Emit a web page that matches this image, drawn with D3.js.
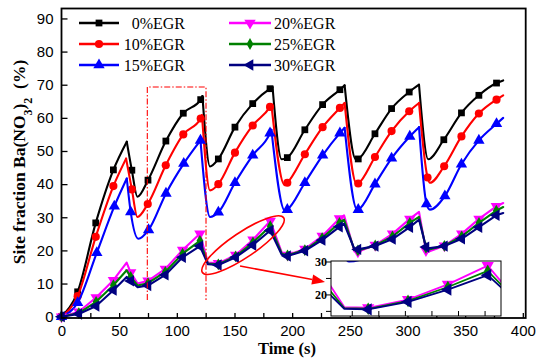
<!DOCTYPE html>
<html><head><meta charset="utf-8">
<script src="https://cdn.jsdelivr.net/npm/d3@7"></script>
<style>body{margin:0;background:#fff}svg{display:block}</style>
</head><body>
<svg id="c" width="539" height="359"></svg>
<script>
// ---------- data ----------
const xTicks = [0, 50, 100, 150, 200, 250, 300, 350, 400];
const yTicks = [0, 10, 20, 30, 40, 50, 60, 70, 80, 90];
const seriesNames = ["0%EGR", "10%EGR", "15%EGR", "20%EGR", "25%EGR", "30%EGR"];
// [time (s), site fraction (%), marker?]
const egr0 = [[0,0,1],[14,7.5,1],[29.7,28.3,1],[45,44.3,1],[56.6,52.8,0],[61,44.2,1],[65.8,36.2,0],[75,41.2,1],[90.5,53,1],[105.6,61.4,1],[120.7,65.5,1],[122.2,66.6,0],[128.8,45.3,0],[136,47.6,1],[150.4,57.2,1],[165.8,64.3,1],[180.8,68.8,1],[183,69.3,0],[190.9,47.5,0],[195.8,48,1],[211,56.4,1],[226.4,64,1],[241.4,68.5,1],[245.5,69.8,0],[255.3,47.4,0],[257.3,47.6,1],[271.8,55.2,1],[286.2,62.8,1],[301.5,67.8,1],[310,70,0],[318,47.5,0],[331.5,53.4,1],[346.8,61.5,1],[361.9,66.8,1],[377.2,70.5,1],[383,71.3,0]];
const egr10 = [[0,0,1],[14,6.2,1],[29.7,24.1,1],[45,39.4,1],[56,47.7,0],[61,38.4,1],[65.8,30.1,0],[74.8,34,1],[90.4,45.7,1],[105.6,55,1],[120.7,59.8,1],[121.8,60.8,0],[128.8,38.1,0],[136,40,1],[150.4,49.5,1],[165.8,57.7,1],[180.8,63.3,1],[182,64,0],[193.5,39.7,0],[195.8,40.4,1],[211,49,1],[226.4,57.2,1],[241.4,63,1],[245.5,64.5,0],[256,40,0],[257.3,40.2,1],[271.8,48.2,1],[286.2,56,1],[301.5,62,1],[310,64.5,0],[317.4,42,1],[319.4,40.4,0],[331.8,45.4,1],[346.8,54.4,1],[361.9,61.3,1],[377.2,65.5,1],[383,66.8,0]];
const egr15 = [[0,0,1],[14,4.2,1],[30.6,19.3,1],[45.8,33.3,1],[56.6,41.7,0],[60,31.6,1],[66.6,23.5,0],[75.5,26.2,1],[90.6,37.2,1],[106,46.2,1],[120.5,53.2,1],[128.8,30.1,0],[136,31.5,1],[150.4,40.4,1],[165.8,48.7,1],[180.8,55.4,1],[182,56.4,0],[193.8,31.9,0],[195.8,32.3,1],[211,40.4,1],[226.4,48.7,1],[241.4,55.4,1],[245.5,57,0],[256.5,32.2,0],[257.3,32.3,1],[271.8,40,1],[286.2,47.8,1],[302,54.4,1],[310,57.2,0],[316.5,34,1],[319.4,32.3,0],[332.4,36.4,1],[346.8,46,1],[361.9,53.2,1],[377.2,58.2,1],[383,60,0]];
const egr20 = [[0,0,1],[15,1.5,1],[30,5.8,1],[45,11,1],[56.5,16.3,0],[60,13.3,1],[66,10,0],[75,10.8,1],[90,14.4,1],[105,20.1,1],[120,25,1],[127,16.3,0],[136,16.1,1],[151,18.6,1],[166,23.2,1],[181,28.9,1],[191,19.3,0],[196,18.6,1],[211,20.4,1],[226,24.3,1],[241,29.6,1],[245,30.6,0],[254,19.7,0],[257,19.6,1],[272,21.6,1],[287,25,1],[302,29.5,1],[310,31.6,0],[316,20,1],[318,19.6,0],[332,21.4,1],[347,25,1],[362,29.5,1],[377,33.3,1],[383,34.3,0]];
const egr25 = [[0,0,1],[15,1.1,1],[30,4.5,1],[45,9.5,1],[56.5,14,0],[60,12,1],[66,9.4,0],[75,10.1,1],[90,13.5,1],[105,19,1],[120,22.9,1],[127,16,0],[136,15.8,1],[151,18.2,1],[166,22.4,1],[181,27.3,1],[191,19,0],[196,18.5,1],[211,20.1,1],[226,23.7,1],[241,28.3,1],[245,29.3,0],[254,20.1,0],[257,20,1],[272,21.5,1],[287,24.2,1],[302,28.3,1],[310,30.1,0],[316,20.8,1],[318,20.2,0],[332,21.4,1],[347,24.2,1],[362,28.3,1],[377,32,1],[383,33.1,0]];
const egr30 = [[0,0,1],[15,0.8,1],[30,3.2,1],[45,8,1],[56.5,12,0],[60,10.8,1],[66,8.9,0],[75,9.4,1],[90,12.6,1],[105,17.9,1],[120,21.3,1],[127,15.8,0],[136,15.6,1],[151,17.9,1],[166,21.6,1],[181,26,1],[191,18.7,0],[196,18.3,1],[211,19.9,1],[226,23.1,1],[241,27.1,1],[245,28.1,0],[254,20.4,0],[257,20.3,1],[272,21.3,1],[287,23.4,1],[302,27,1],[310,29.3,0],[316,21,1],[318,20.6,0],[332,21.3,1],[347,23.5,1],[362,27,1],[377,30.6,1],[383,31.3,0]];
const insetXTicks = [130, 140, 150, 160, 170, 180];
const insetYTicks = [15, 20, 25, 30];
const insetYLabels = [20, 30];

// ---------- styles ----------
const allSeries = [egr0, egr10, egr15, egr20, egr25, egr30];
const colors = ["#000000", "#ff0000", "#0000ff", "#ff00ff", "#008000", "#000080"];
const symbols = [d3.symbolSquare, d3.symbolCircle, d3.symbolTriangle, d3.symbolTriangle, d3.symbolDiamond, d3.symbolTriangle];
const rots = [0, 0, 0, 180, 0, -90];
const symSizes = [46, 52, 56, 56, 40, 56];
const smooth = [true, true, true, false, false, false];

const svg = d3.select("#c");
const W = 539, H = 359;
svg.append("rect").attr("width", W).attr("height", H).attr("fill", "#fff");

const x = d3.scaleLinear().domain([0, 402.5]).range([61.5, 525.7]);
const y = d3.scaleLinear().domain([-0.4, 93]).range([318, 8.5]);

const sans = "'Liberation Sans', Arial, sans-serif";
const serif = "'Liberation Serif', 'Times New Roman', serif";

function segs(pts) {
  const out = []; let cur = [pts[0]];
  for (let i = 1; i < pts.length; i++) {
    cur.push(pts[i]);
    if (i < pts.length - 1 && pts[i][1] > pts[i-1][1] && pts[i+1][1] < pts[i][1] - 3) {
      out.push(cur); cur = [pts[i]];
    }
  }
  out.push(cur);
  return out;
}

function drawSeries(g, xs, ys, widthScale, sizeScale, filterFn) {
  allSeries.forEach((pts, k) => {
    const line = d3.line().x(d => xs(d[0])).y(d => ys(d[1]))
      .curve(smooth[k] ? d3.curveMonotoneX : d3.curveLinear);
    const parts = smooth[k] ? segs(pts) : [pts];
    parts.forEach(p => {
      g.append("path").attr("d", line(p)).attr("fill", "none")
        .attr("stroke", colors[k]).attr("stroke-width", 2.1 * widthScale)
        .attr("stroke-linecap", "round").attr("stroke-linejoin", "round");
    });
    const sym = d3.symbol().type(symbols[k]).size(symSizes[k] * sizeScale);
    g.selectAll(null).data(pts.filter(d => d[2] === 1 && filterFn(d))).enter()
      .append("path").attr("d", sym)
      .attr("transform", d => `translate(${xs(d[0])},${ys(d[1])}) rotate(${rots[k]})`)
      .attr("fill", colors[k]);
  });
}

// ---------- axes ----------
const xAxis = d3.axisBottom(x).tickValues(d3.range(0, 401, 25)).tickSize(-5).tickPadding(7)
  .tickFormat(d => xTicks.includes(d) ? d : "");
const gx = svg.append("g").attr("transform", `translate(0,${y.range()[0]})`).call(xAxis);
gx.select(".domain").remove();
gx.selectAll("line").attr("stroke", "#000").attr("stroke-width", 1.3);
gx.selectAll("text").attr("font-family", sans).attr("font-size", 15).attr("fill", "#000");

const yAxis = d3.axisLeft(y).tickValues(yTicks).tickSize(-6).tickPadding(8);
const gy = svg.append("g").attr("transform", `translate(${x.range()[0]},0)`).call(yAxis);
gy.select(".domain").remove();
gy.selectAll("line").attr("stroke", "#000").attr("stroke-width", 1.3);
gy.selectAll("text").attr("font-family", sans).attr("font-size", 15).attr("fill", "#000");

// ---------- main series ----------
const gMain = svg.append("g");
drawSeries(gMain, x, y, 1, 1, () => true);

// frame
svg.append("rect").attr("x", x.range()[0]).attr("y", y.range()[1])
  .attr("width", x.range()[1] - x.range()[0]).attr("height", y.range()[0] - y.range()[1])
  .attr("fill", "none").attr("stroke", "#000").attr("stroke-width", 1.8);

// ---------- annotations ----------
const boxT0 = 74.4, boxT1 = 125.3, boxTop = 69.3, boxBot = 5;
svg.append("path")
  .attr("d", `M${x(boxT0)},${y(boxBot)}L${x(boxT0)},${y(boxTop)}L${x(boxT1)},${y(boxTop)}L${x(boxT1)},${y(boxBot)}`)
  .attr("fill", "none").attr("stroke", "#ff0000").attr("stroke-width", 1.1)
  .attr("stroke-dasharray", "6,2,1.5,2");

const ellC = [157.4, 21.6];
svg.append("ellipse").attr("cx", x(ellC[0])).attr("cy", y(ellC[1])).attr("rx", 49).attr("ry", 12.5)
  .attr("transform", `rotate(-34,${x(ellC[0])},${y(ellC[1])})`)
  .attr("fill", "none").attr("stroke", "#ff0000").attr("stroke-width", 1.6);

const arrA = [154.8, 15.3], arrB = [228.5, 10.5];
const ax0 = x(arrA[0]), ay0 = y(arrA[1]), ax1 = x(arrB[0]), ay1 = y(arrB[1]);
const ang = Math.atan2(ay1 - ay0, ax1 - ax0), hl = 13, hw = 5;
const bx = ax1 - hl * Math.cos(ang), by = ay1 - hl * Math.sin(ang);
svg.append("line").attr("x1", ax0).attr("y1", ay0).attr("x2", bx).attr("y2", by)
  .attr("stroke", "#ff0000").attr("stroke-width", 1.6);
svg.append("path").attr("d", `M${ax1},${ay1}L${bx - hw*Math.sin(ang)},${by + hw*Math.cos(ang)}L${bx + hw*Math.sin(ang)},${by - hw*Math.cos(ang)}Z`)
  .attr("fill", "#ff0000");

// ---------- inset ----------
const ix = d3.scaleLinear().domain([122, 186]).range([331, 501]);
const iy = d3.scaleLinear().domain([13.6, 30.3]).range([316, 261]);
svg.append("rect").attr("x", 331).attr("y", 261).attr("width", 170).attr("height", 55).attr("fill", "#fff");
svg.append("clipPath").attr("id", "ic").append("rect").attr("x", 331).attr("y", 261).attr("width", 170).attr("height", 55);
const gIn = svg.append("g").attr("clip-path", "url(#ic)");
drawSeries(gIn, ix, iy, 0.85, 1.15, d => d[0] >= 122 && d[0] <= 186);
svg.append("rect").attr("x", ix.range()[0]).attr("y", iy.range()[1])
  .attr("width", ix.range()[1] - ix.range()[0]).attr("height", iy.range()[0] - iy.range()[1])
  .attr("fill", "none").attr("stroke", "#000").attr("stroke-width", 1);
svg.append("g").selectAll("line").data(insetYTicks).enter().append("line")
  .attr("x1", ix.range()[0] - 5).attr("x2", ix.range()[0]).attr("y1", d => iy(d)).attr("y2", d => iy(d))
  .attr("stroke", "#000").attr("stroke-width", 1);
svg.append("g").selectAll("text").data(insetYLabels).enter().append("text")
  .attr("x", ix.range()[0] - 4).attr("y", d => iy(d) + 4).attr("text-anchor", "end")
  .attr("font-family", serif).attr("font-weight", "bold").attr("font-size", 12).text(d => d);
svg.append("g").selectAll("line").data(insetXTicks).enter().append("line")
  .attr("x1", d => ix(d)).attr("x2", d => ix(d)).attr("y1", iy.range()[0]).attr("y2", iy.range()[0] - 5)
  .attr("stroke", "#000").attr("stroke-width", 1);

// ---------- legend ----------
const legRows = [23, 44, 65];
seriesNames.forEach((name, k) => {
  const col = Math.floor(k / 3), row = k % 3;
  const x0 = col === 0 ? 79 : 229, x1 = col === 0 ? 119 : 271;
  const ly = legRows[row];
  svg.append("line").attr("x1", x0).attr("x2", x1).attr("y1", ly).attr("y2", ly)
    .attr("stroke", colors[k]).attr("stroke-width", 2.5);
  svg.append("path").attr("d", d3.symbol().type(symbols[k]).size(symSizes[k])())
    .attr("transform", `translate(${(x0 + x1) / 2},${ly}) rotate(${rots[k]})`).attr("fill", colors[k]);
  svg.append("text").attr("x", col === 0 ? 185 : 274).attr("y", ly + 5.5)
    .attr("text-anchor", col === 0 ? "end" : "start")
    .attr("font-family", serif).attr("font-size", 16).attr("fill", "#000").text(name);
});

// ---------- axis titles ----------
svg.append("text").attr("x", 287).attr("y", 354).attr("text-anchor", "middle")
  .attr("font-family", serif).attr("font-weight", "bold").attr("font-size", 16.5).text("Time (s)");
const yt = svg.append("text").attr("transform", "translate(25,162) rotate(-90)").attr("text-anchor", "middle")
  .attr("font-family", serif).attr("font-weight", "bold").attr("font-size", 17.5).style("white-space", "pre");
yt.append("tspan").text("Site fraction Ba(NO");
yt.append("tspan").attr("font-size", 12).attr("baseline-shift", "sub").text("3");
yt.append("tspan").text(")");
yt.append("tspan").attr("font-size", 12).attr("baseline-shift", "sub").text("2");
yt.append("tspan").text("  (%)");
</script>
</body></html>
